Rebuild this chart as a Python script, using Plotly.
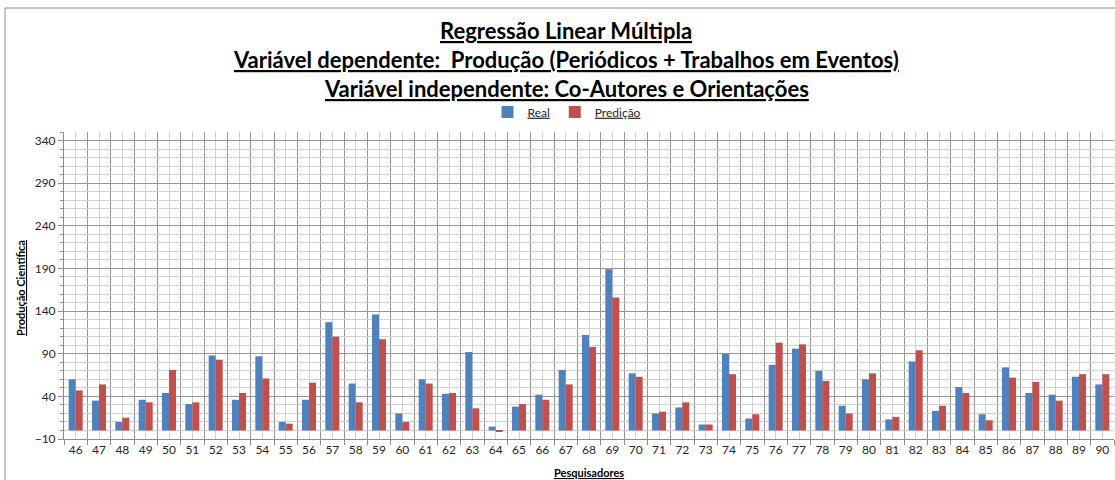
import plotly.graph_objects as go

# Researchers (x categories)
pesquisadores = list(range(46, 91))

# Observed production
real = [60, 35, 10, 36, 44, 31, 88, 36, 87, 10,
        36, 127, 55, 136, 20, 60, 43, 92, 4.5, 28,
        42, 71, 112, 189, 67, 20, 27, 7, 90, 14,
        77, 96, 70, 29, 60, 13, 81, 23, 51, 19,
        74, 44, 42, 63, 54]

# Regression prediction
predicao = [47, 54, 15, 33, 71, 33, 83, 44, 61, 8,
            56, 110, 33, 107, 10, 55, 44, 26, -1.5, 31,
            36, 54, 98, 156, 63, 22, 33, 7, 66, 19,
            103, 101, 58, 20, 67, 16, 94, 29, 44, 12,
            62, 57, 35, 66, 66]

BLUE = "#4F81BD"
RED = "#C0504D"
TXT = "#262626"
FONT = "Lato"

fig = go.Figure()
fig.add_trace(go.Bar(x=pesquisadores, y=real, name="<u>Real</u>",
                     marker=dict(color=BLUE, line=dict(width=0))))
fig.add_trace(go.Bar(x=pesquisadores, y=predicao, name="<u>Predição</u>",
                     marker=dict(color=RED, line=dict(width=0))))

T, B, L, R = 132, 41, 64, 1
W, H = 1115, 480
ph = H - T - B
pw = W - L - R


def py(pix):
    """pixel row -> paper y"""
    return (H - B - pix) / ph


def px(pix):
    """pixel column -> paper x"""
    return (pix - L) / pw


titles = [
    (30, "Regressão Linear Múltipla"),
    (60, "Variável dependente:  Produção (Periódicos + Trabalhos em Eventos)"),
    (89, "Variável independente: Co-Autores e Orientações"),
]
annotations = []
for ypix, txt in titles:
    annotations.append(dict(
        text=f"<b><u>{txt}</u></b>", xref="paper", yref="paper",
        x=px(566), y=py(ypix), xanchor="center", yanchor="middle",
        showarrow=False,
        font=dict(family=FONT, size=22, color="#000000")))

annotations.append(dict(
    text="<b><u>Produção Científica</u></b>", xref="paper", yref="paper",
    x=px(20), y=py(288), xanchor="center", yanchor="middle", textangle=-90,
    showarrow=False,
    font=dict(family=FONT, size=11, color="#000000")))
annotations.append(dict(
    text="<b><u>Pesquisadores</u></b>", xref="paper", yref="paper",
    x=px(589), y=py(472), xanchor="center", yanchor="middle",
    showarrow=False,
    font=dict(family=FONT, size=11, color="#000000")))

fig.update_layout(
    width=W, height=H,
    margin=dict(t=T, b=B, l=L, r=R, pad=0),
    paper_bgcolor="white", plot_bgcolor="white",
    barmode="group", bargap=0.4, bargroupgap=0,
    showlegend=True,
    legend=dict(orientation="h", xanchor="center", yanchor="middle",
                x=px(567), y=py(112),
                font=dict(family=FONT, size=12, color=TXT),
                itemwidth=30, tracegroupgap=0, bgcolor="rgba(0,0,0,0)"),
    annotations=annotations,
    shapes=[dict(type="rect", xref="paper", yref="paper",
                 x0=px(5), x1=px(1125), y0=py(490), y1=py(8),
                 line=dict(color="#8c8c8c", width=1), layer="below")],
    font=dict(family=FONT, size=12, color=TXT),
)

fig.update_xaxes(
    range=[45.5, 90.5], tickmode="linear", tick0=46, dtick=1,
    showgrid=True, gridcolor="#d0d0d0", gridwidth=1,
    showline=True, linecolor="#8c8c8c", linewidth=1,
    ticks="", zeroline=False,
    tickfont=dict(family=FONT, size=12, color=TXT),
    minor=dict(tickmode="linear", tick0=45.5, dtick=1, showgrid=True,
               gridcolor="#969696", gridwidth=1, ticks="outside",
               ticklen=5, tickcolor="#8c8c8c"),
    fixedrange=True,
)

fig.update_yaxes(
    range=[-10, 350], tickmode="linear", tick0=-10, dtick=50,
    showgrid=True, gridcolor="#969696", gridwidth=1,
    showline=True, linecolor="#8c8c8c", linewidth=1,
    ticks="outside", ticklen=5, tickcolor="#8c8c8c",
    zeroline=False,
    tickfont=dict(family=FONT, size=12, color=TXT),
    minor=dict(tickmode="linear", tick0=-10, dtick=10, showgrid=True,
               gridcolor="#d0d0d0", gridwidth=1, ticks="outside",
               ticklen=3, tickcolor="#8c8c8c"),
    fixedrange=True,
)

fig.write_html("out.html")
